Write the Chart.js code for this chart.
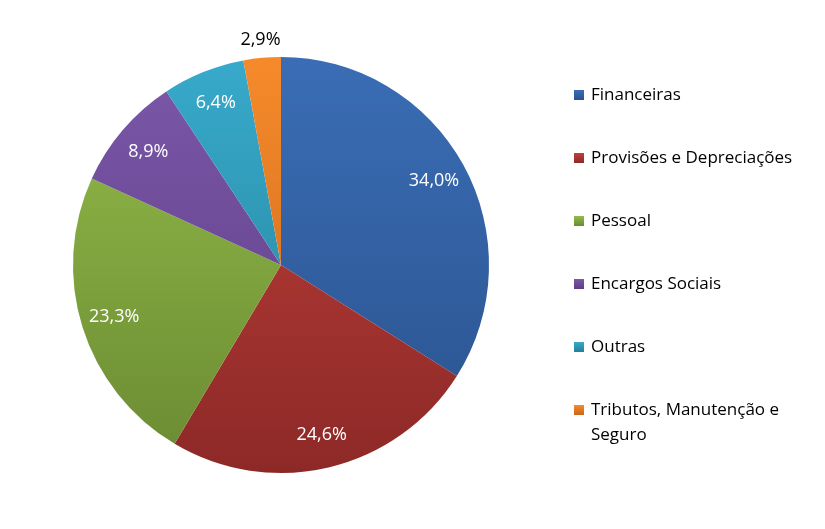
<!DOCTYPE html>
<html>
<head>
<meta charset="utf-8">
<script src="https://cdn.jsdelivr.net/npm/chart.js@4.4.1/dist/chart.umd.min.js"></script>
<style>
  html, body { margin: 0; padding: 0; background: #fff; }
  #wrap { width: 825px; height: 529px; }
</style>
</head>
<body>
<div id="wrap"><canvas id="myChart" width="825" height="529"></canvas></div>
<script>
// Pie chart data

const categories = [
    'Financeiras',
    'Provisões e Depreciações',
    'Pessoal',
    'Encargos Sociais',
    'Outras',
    'Tributos, Manutenção e Seguro'
];

const shares = [34.0, 24.6, 23.3, 8.9, 6.4, 2.9];

// light (top) -> dark (bottom), Excel style gradient
const topColors = ['#3a6db5', '#c2403b', '#94bc4a', '#7b57a9', '#38aacb', '#f68a2b'];
const bottomColors = ['#2a528d', '#8c2927', '#6a8a32', '#5c3e84', '#257f99', '#c9661a'];

const FONT = '"Open Sans", sans-serif';

const fmt = (v) => v.toFixed(1).replace('.', ',') + '%';

const gradientFill = (ctx) => {
    const chart = ctx.chart;
    const area = chart.chartArea;
    if (!area) return topColors[ctx.dataIndex];
    const g = chart.ctx.createLinearGradient(0, area.top, 0, area.bottom);
    g.addColorStop(0, topColors[ctx.dataIndex]);
    g.addColorStop(1, bottomColors[ctx.dataIndex]);
    return g;
};

// labels on the slices
const sliceLabels = {
    id: 'sliceLabels',
    afterDatasetsDraw(chart) {
        const ctx = chart.ctx;
        const meta = chart.getDatasetMeta(0);
        ctx.save();
        ctx.font = '18px ' + FONT;
        ctx.textAlign = 'center';
        ctx.textBaseline = 'middle';
        meta.data.forEach((arc, i) => {
            const mid = (arc.startAngle + arc.endAngle) / 2;
            const small = shares[i] < 5;
            const r = small ? arc.outerRadius + 18 : arc.outerRadius * 0.84;
            const x = arc.x + Math.cos(mid) * r;
            const y = arc.y + Math.sin(mid) * r;
            ctx.fillStyle = small ? '#000' : '#fff';
            ctx.fillText(fmt(shares[i]), x, y);
        });
        ctx.restore();
    }
};

// legend on the right, wraps long names
const sideLegend = {
    id: 'sideLegend',
    afterDraw(chart) {
        const ctx = chart.ctx;
        ctx.save();
        ctx.font = '17px ' + FONT;
        ctx.textBaseline = 'middle';
        const x0 = 574, tx = 591, maxW = 220;
        categories.forEach((name, i) => {
            const y = 95 + 63 * i;
            const g = ctx.createLinearGradient(0, y - 5, 0, y + 5);
            g.addColorStop(0, topColors[i]);
            g.addColorStop(1, bottomColors[i]);
            ctx.fillStyle = g;
            ctx.fillRect(x0, y - 5, 10, 10);
            ctx.fillStyle = '#000';
            const words = name.split(' ');
            let line = '', ly = y;
            words.forEach((w) => {
                const test = line ? line + ' ' + w : w;
                if (ctx.measureText(test).width > maxW && line) {
                    ctx.fillText(line, tx, ly);
                    line = w;
                    ly += 25;
                } else {
                    line = test;
                }
            });
            ctx.fillText(line, tx, ly);
        });
        ctx.restore();
    }
};

const data = {
    labels: categories,
    datasets: [{
        data: shares,
        backgroundColor: gradientFill,
        borderWidth: 0
    }]
};

const config = {
    type: 'pie',
    data: data,
    options: {
        responsive: false,
        animation: false,
        layout: {
            padding: { left: 73, right: 336, top: 57, bottom: 56 }
        },
        plugins: {
            legend: { display: false },
            tooltip: { enabled: false }
        }
    },
    plugins: [sliceLabels, sideLegend]
};

const myChart = new Chart(
    document.getElementById('myChart'),
    config
);
</script>
</body>
</html>
